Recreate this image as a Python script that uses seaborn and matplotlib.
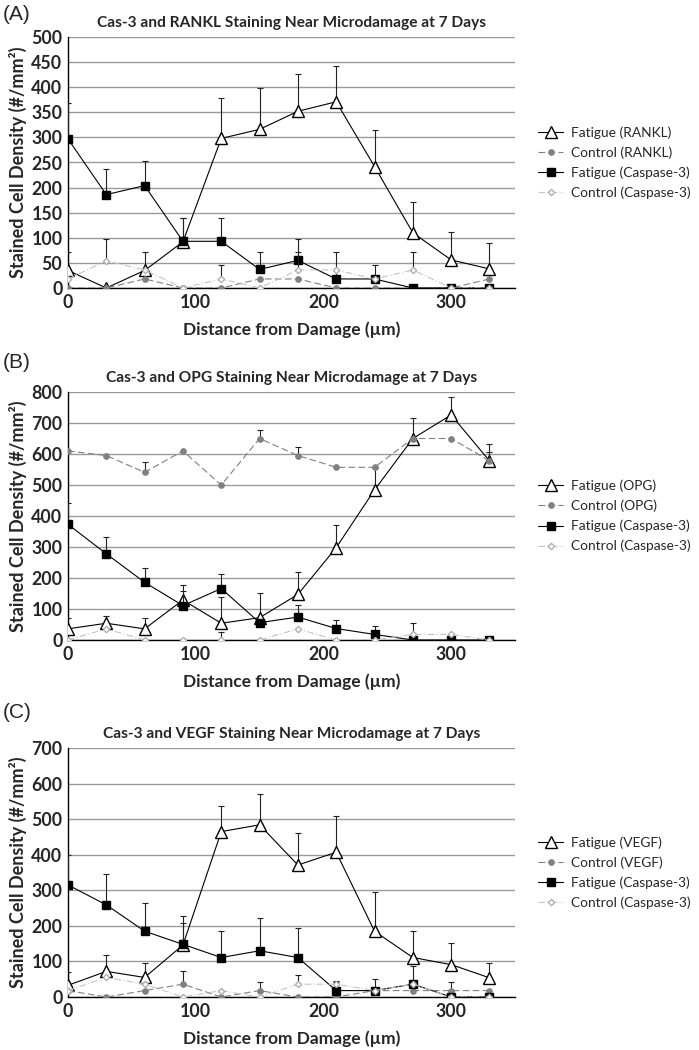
import numpy as np
import seaborn as sns
import matplotlib.pyplot as plt

distance = [0, 30, 60, 90, 120, 150, 180, 210, 240, 270, 300, 330]

# (A) RANKL
rankl_fatigue = [35, 0, 35, 92, 298, 316, 352, 371, 242, 110, 56, 38]
rankl_fatigue_err = [37, 0, 37, 48, 80, 82, 74, 71, 72, 62, 56, 52]
rankl_control = [0, 0, 18, 0, 0, 18, 18, 0, 0, 0, 0, 18]
rankl_control_err = [0, 0, 0, 0, 0, 0, 0, 0, 0, 0, 0, 0]
casA_fatigue = [297, 186, 204, 93, 93, 37, 55, 18, 18, 0, 0, 0]
casA_fatigue_err = [71, 52, 48, 47, 47, 35, 42, 54, 27, 0, 0, 0]
casA_control = [18, 54, 36, 0, 18, 0, 36, 36, 18, 36, 0, 0]
casA_control_err = [0, 43, 0, 0, 27, 0, 36, 0, 0, 36, 0, 0]

# (B) OPG
opg_fatigue = [36, 54, 36, 129, 54, 72, 147, 298, 484, 650, 726, 578]
opg_fatigue_err = [36, 24, 36, 48, 84, 81, 73, 73, 72, 67, 59, 53]
opg_control = [610, 595, 541, 610, 500, 650, 595, 557, 557, 650, 650, 578]
opg_control_err = [0, 0, 34, 0, 0, 28, 26, 0, 0, 0, 0, 30]
casB_fatigue = [373, 278, 186, 111, 166, 56, 74, 37, 18, 0, 0, 0]
casB_fatigue_err = [70, 55, 47, 47, 46, 0, 40, 26, 27, 0, 0, 0]
casB_control = [0, 36, 0, 0, 0, 0, 36, 0, 0, 18, 18, 0]
casB_control_err = [0, 0, 0, 0, 25, 0, 0, 0, 0, 37, 0, 0]

# (C) VEGF
vegf_fatigue = [33, 72, 55, 146, 465, 484, 371, 407, 185, 111, 91, 54]
vegf_fatigue_err = [38, 45, 41, 82, 73, 86, 91, 102, 109, 74, 62, 41]
vegf_control = [18, 0, 18, 36, 0, 18, 0, 0, 18, 18, 18, 18]
vegf_control_err = [0, 0, 0, 36, 0, 25, 0, 0, 0, 0, 25, 0]
casC_fatigue = [315, 259, 185, 148, 111, 130, 111, 18, 18, 36, 0, 0]
casC_fatigue_err = [85, 88, 78, 60, 74, 91, 82, 24, 34, 52, 0, 0]
casC_control = [18, 55, 36, 0, 18, 0, 36, 36, 18, 36, 0, 0]
casC_control_err = [0, 0, 0, 0, 0, 0, 27, 8, 0, 0, 0, 0]

panels = [
    ("(A)", "Cas-3 and RANKL Staining Near Microdamage at 7 Days", "RANKL",
     rankl_fatigue, rankl_fatigue_err, rankl_control, rankl_control_err,
     casA_fatigue, casA_fatigue_err, casA_control, casA_control_err, 500, 50),
    ("(B)", "Cas-3 and OPG Staining Near Microdamage at 7 Days", "OPG",
     opg_fatigue, opg_fatigue_err, opg_control, opg_control_err,
     casB_fatigue, casB_fatigue_err, casB_control, casB_control_err, 800, 100),
    ("(C)", "Cas-3 and VEGF Staining Near Microdamage at 7 Days", "VEGF",
     vegf_fatigue, vegf_fatigue_err, vegf_control, vegf_control_err,
     casC_fatigue, casC_fatigue_err, casC_control, casC_control_err, 700, 100),
]

sns.set_style("white")
plt.rcParams['font.family'] = ['Lato', 'DejaVu Sans']

fig = plt.figure(figsize=(6.99, 10.5), dpi=100)

# axes boxes in pixels: (top, bottom)
boxes = [(37, 288), (392, 640), (748, 997)]
label_y = [15, 363, 713]
left_px, right_px = 68, 515


def draw_series(ax, y, err, label, color, marker, ms, mfc, mec, ls, lw, z):
    sns.lineplot(x=distance, y=y, ax=ax, color=color, marker=marker,
                 markersize=ms, markerfacecolor=mfc, markeredgecolor=mec,
                 markeredgewidth=1.0, linestyle=ls, linewidth=lw,
                 label=label, zorder=z)
    err = np.array(err)
    keep = err > 0
    x = np.array(distance)[keep]
    yy = np.array(y)[keep]
    e = err[keep]
    ax.errorbar(x, yy, yerr=[np.zeros_like(e), e], fmt='none',
                ecolor='#222222', elinewidth=0.8, capsize=2.5,
                capthick=0.8, zorder=z - 0.5)


for i, p in enumerate(panels):
    (tag, title, name, fat, fat_e, ctl, ctl_e,
     cfat, cfat_e, cctl, cctl_e, ymax, ystep) = p
    top, bot = boxes[i]
    ax = fig.add_axes([left_px / 699, 1 - bot / 1050,
                       (right_px - left_px) / 699, (bot - top) / 1050])

    draw_series(ax, fat, fat_e, f"Fatigue ({name})", 'black', '^', 8,
                'white', 'black', '-', 0.8, 3)
    draw_series(ax, ctl, ctl_e, f"Control ({name})", '#808080', 'o', 3.8,
                '#808080', '#808080', (0, (6, 3)), 0.8, 4)
    draw_series(ax, cfat, cfat_e, "Fatigue (Caspase-3)", 'black', 's', 5.5,
                'black', 'black', '-', 0.8, 5)
    draw_series(ax, cctl, cctl_e, "Control (Caspase-3)", '#c4c4c4', 'D', 3.2,
                'white', '#b0b0b0', (0, (6, 2, 1, 2)), 0.8, 6)

    ax.set_xlim(0, 350)
    ax.set_ylim(0, ymax)
    ax.set_xticks([0, 100, 200, 300])
    ax.set_yticks(np.arange(0, ymax + 1, ystep))
    ax.yaxis.grid(True, color='#9a9a9a', linewidth=1.0)
    ax.set_axisbelow(True)
    for s in ['top', 'right']:
        ax.spines[s].set_visible(False)
    ax.spines['left'].set_color('black')
    ax.spines['bottom'].set_color('black')
    ax.spines['left'].set_linewidth(1.0)
    ax.spines['bottom'].set_linewidth(1.0)
    ax.tick_params(axis='x', direction='inout', length=5, width=0.8, pad=2,
                   labelsize=12.8)
    ax.tick_params(axis='y', length=0, pad=4, labelsize=12.8)
    for t in ax.get_xticklabels() + ax.get_yticklabels():
        t.set_fontweight('bold')

    ax.set_title(title, fontsize=11.2, fontweight='bold', pad=7)
    ax.set_xlabel("Distance from Damage (µm)", fontsize=12.5,
                  fontweight='bold', labelpad=7)
    ax.set_ylabel("Stained Cell Density (#/mm²)", fontsize=13,
                  fontweight='bold', labelpad=3)

    ax.legend(loc='center left', bbox_to_anchor=(1.04, 0.5), frameon=False,
              fontsize=9.9, handlelength=1.8, handletextpad=0.55,
              labelspacing=0.55, borderaxespad=0)

    fig.text(0.004, 1 - label_y[i] / 1050, tag, fontsize=15,
             family='Liberation Sans', va='center', ha='left')

fig.savefig("out.png", dpi=100)
